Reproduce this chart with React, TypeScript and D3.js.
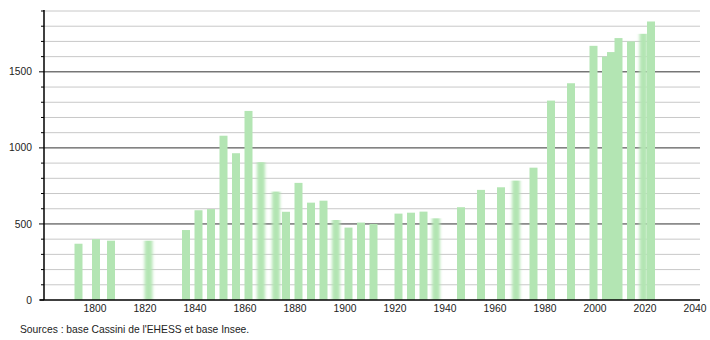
import React from "react";
import * as d3 from "d3";

const years = [1793, 1800, 1806, 1821, 1836, 1841, 1846, 1851, 1856, 1861, 1866, 1872, 1876, 1881, 1886, 1891, 1896, 1901, 1906, 1911, 1921, 1926, 1931, 1936, 1946, 1954, 1962, 1968, 1975, 1982, 1990, 1999, 2004, 2006, 2009, 2014, 2019, 2022];
const population = [370, 400, 390, 390, 460, 590, 598, 1080, 965, 1243, 906, 713, 580, 770, 640, 653, 526, 476, 509, 500, 568, 574, 581, 537, 610, 724, 741, 785, 870, 1311, 1425, 1671, 1600, 1630, 1722, 1700, 1750, 1831];
const softYears = [1821, 1866, 1872, 1896, 1936, 1968, 2019];
const xTicks = [1800, 1820, 1840, 1860, 1880, 1900, 1920, 1940, 1960, 1980, 2000, 2020, 2040];
const yMajor = [0, 500, 1000, 1500];
const yMinor = d3.range(100, 2000, 100).filter((v) => v % 500 !== 0);
const source = "Sources : base Cassini de l'EHESS et base Insee.";

export default function App() {
  const W = 710, H = 340;
  const x = d3.scaleLinear().domain([1780, 2040]).range([45, 695]);
  const y = d3.scaleLinear().domain([0, 1900]).range([300, 11]);
  const left = 44, right = 700;
  const font = "'Liberation Sans', Arial, sans-serif";
  const bw = 8;
  const fs = 10.3;
  return (
    <svg width={W} height={H} style={{ position: "absolute", left: 0, top: 0 }} fontFamily={font}>
      <defs>
        <filter id="soft" x="-50%" y="-5%" width="200%" height="110%">
          <feGaussianBlur stdDeviation="1.4 0.5" />
        </filter>
      </defs>
      <rect width={W} height={H} fill="#fff" />
      {yMinor.map((v) => (
        <g key={"mi" + v}>
          <line x1={left} x2={right} y1={y(v)} y2={y(v)} stroke="#c8c8c8" strokeWidth={1} />
          <line x1={left - 3} x2={left} y1={y(v)} y2={y(v)} stroke="#000" strokeWidth={1} />
        </g>
      ))}
      {yMajor.filter((v) => v > 0).map((v) => (
        <line key={"ma" + v} x1={left} x2={right} y1={y(v)} y2={y(v)} stroke="#333" strokeWidth={1} />
      ))}
      {years.map((yr, i) => {
        const soft = softYears.includes(yr);
        const cx = x(yr) + 1;
        return (
          <rect
            key={yr}
            x={cx - bw / 2}
            y={y(population[i])}
            width={bw}
            height={y(0) - y(population[i])}
            fill="#b3e5b3"
            filter={soft ? "url(#soft)" : undefined}
          />
        );
      })}
      {yMajor.map((v) => (
        <g key={"yt" + v}>
          <line x1={left - 5} x2={left} y1={y(v)} y2={y(v)} stroke="#000" strokeWidth={1} />
          <text x={32} y={y(v)} dy="0.35em" textAnchor="end" fontSize={fs} fill="#222">{v}</text>
        </g>
      ))}
      <line x1={left} x2={left} y1={y(1900) - 1} y2={y(0)} stroke="#000" strokeWidth={1.5} />
      <line x1={40} x2={right} y1={y(0)} y2={y(0)} stroke="#000" strokeWidth={1.5} />
      {xTicks.map((t) => (
        <text key={t} x={x(t)} y={308} dy="0.35em" textAnchor="middle" fontSize={fs} fill="#222">{t}</text>
      ))}
      <text x={20} y={329} dy="0.35em" fontSize={fs} fill="#222">{source}</text>
    </svg>
  );
}
